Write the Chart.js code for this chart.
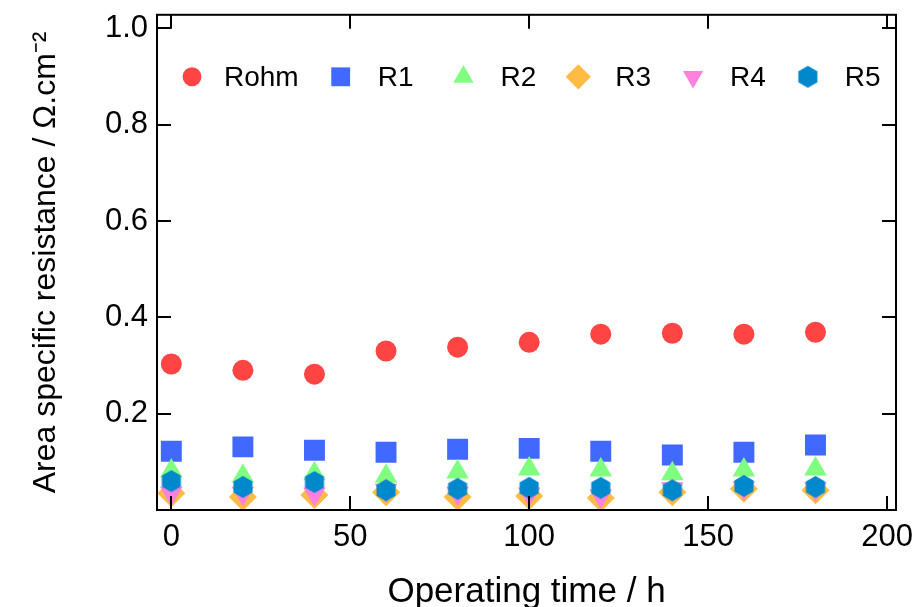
<!DOCTYPE html>
<html>
<head>
<meta charset="utf-8">
<script src="https://cdn.jsdelivr.net/npm/chart.js@4.4.1/dist/chart.umd.min.js"></script>
<style>
  html, body { margin: 0; padding: 0; background: #fff; }
  #wrap { width: 913px; height: 607px; }
</style>
</head>
<body>
<div id="wrap"><canvas id="asrChart" width="913" height="607"></canvas></div>
<script>
// operating time (h)
const hours = [0, 20, 40, 60, 80, 100, 120, 140, 160, 180];

// area specific resistance, ohm.cm-2
const rohm = [0.303, 0.290, 0.282, 0.330, 0.338, 0.348, 0.365, 0.367, 0.365, 0.369];
const r1   = [0.122, 0.131, 0.124, 0.120, 0.126, 0.128, 0.122, 0.114, 0.120, 0.135];
const r2   = [0.081, 0.070, 0.075, 0.070, 0.079, 0.085, 0.083, 0.075, 0.083, 0.085];
const r3   = [0.035, 0.027, 0.031, 0.037, 0.027, 0.029, 0.025, 0.037, 0.044, 0.041];
const r4   = [0.035, 0.035, 0.033, 0.041, 0.035, 0.033, 0.029, 0.044, 0.046, 0.044];
const r5   = [0.060, 0.048, 0.058, 0.041, 0.044, 0.046, 0.046, 0.041, 0.050, 0.048];

const xTicks = [0, 50, 100, 150, 200];
const yTicks = [0.2, 0.4, 0.6, 0.8, 1.0];

const FONT = '"Liberation Sans", Arial, sans-serif';

// hexagon marker (no built-in style for it)
function makeHexagon(r, color) {
    const c = document.createElement('canvas');
    const w = Math.ceil(r * 2 * Math.cos(Math.PI / 6)) + 2;
    const h = r * 2 + 2;
    c.width = w;
    c.height = h;
    const g = c.getContext('2d');
    g.fillStyle = color;
    g.beginPath();
    for (let i = 0; i < 6; i++) {
        const a = Math.PI / 2 + i * Math.PI / 3;
        const px = w / 2 + r * Math.cos(a);
        const py = h / 2 + r * Math.sin(a);
        if (i === 0) g.moveTo(px, py); else g.lineTo(px, py);
    }
    g.closePath();
    g.fill();
    return c;
}

function toPoints(ys) {
    return hours.map((h, i) => ({ x: h, y: ys[i] }));
}

function series(label, ys, color, style, radius, rotation, order) {
    return {
        label: label,
        data: toPoints(ys),
        backgroundColor: color,
        borderColor: color,
        borderWidth: 0,
        pointStyle: style,
        pointRadius: radius,
        pointHoverRadius: radius,
        pointRotation: rotation,
        showLine: false,
        order: order
    };
}

const datasets = [
    series('Rohm', rohm, '#ff4444', 'circle', 10.5, 0, 5),
    series('R1', r1, '#4169ff', 'rect', 14.8, 0, 4),
    series('R2', r2, '#80ff80', 'triangle', 13, 0, 3),
    series('R3', r3, '#ffbb44', 'rectRot', 14, 0, 2),
    series('R4', r4, '#ff80dd', 'triangle', 13, 180, 1),
    series('R5', r5, '#0088cc', makeHexagon(11, '#0088cc'), 11, 0, 0)
];

// frame + inward ticks on all four sides
const framePlugin = {
    id: 'frame',
    afterDraw(chart) {
        const { ctx, chartArea: a, scales } = chart;
        const len = 14;
        ctx.save();
        ctx.strokeStyle = '#000';
        ctx.lineWidth = 2;
        ctx.strokeRect(a.left, a.top, a.right - a.left, a.bottom - a.top);
        ctx.beginPath();
        scales.x.ticks.forEach(t => {
            const px = Math.round(scales.x.getPixelForValue(t.value));
            ctx.moveTo(px, a.bottom); ctx.lineTo(px, a.bottom - len);
            ctx.moveTo(px, a.top); ctx.lineTo(px, a.top + len);
        });
        scales.y.ticks.forEach(t => {
            const py = Math.round(scales.y.getPixelForValue(t.value));
            ctx.moveTo(a.left, py); ctx.lineTo(a.left + len, py);
            ctx.moveTo(a.right, py); ctx.lineTo(a.right - len, py);
        });
        ctx.stroke();
        ctx.restore();
    }
};

// legend drawn inside the plot area, one row
const innerLegend = {
    id: 'innerLegend',
    afterDraw(chart) {
        const { ctx, chartArea: a } = chart;
        ctx.save();
        ctx.font = '28px ' + FONT;
        ctx.textBaseline = 'middle';
        ctx.textAlign = 'left';
        let x = a.left + 35;
        const y = a.top + 62;
        chart.data.datasets.forEach((ds, i) => {
            ctx.fillStyle = ds.backgroundColor;
            Chart.helpers.drawPoint(ctx, {
                pointStyle: ds.pointStyle,
                rotation: ds.pointRotation,
                radius: ds.pointRadius * 0.9,
                borderWidth: 0
            }, x, y);
            ctx.fillStyle = '#000';
            const tx = x + (i === 0 ? 32 : 37);
            ctx.fillText(ds.label, tx, y + 1);
            x = tx + ctx.measureText(ds.label).width + (i === 1 ? 50 : 42);
        });
        ctx.restore();
    }
};

new Chart(document.getElementById('asrChart'), {
    type: 'scatter',
    data: { datasets: datasets },
    plugins: [framePlugin, innerLegend],
    options: {
        responsive: false,
        animation: false,
        devicePixelRatio: 1,
        layout: { padding: { top: 14, right: 17, left: 0, bottom: 0 } },
        plugins: {
            legend: { display: false },
            tooltip: { enabled: false }
        },
        scales: {
            x: {
                type: 'linear',
                min: -4,
                max: 202.5,
                afterFit: s => { s.height = 97; s.paddingLeft = 0; s.paddingRight = 0; },
                afterBuildTicks: s => { s.ticks = xTicks.map(v => ({ value: v })); },
                grid: { display: false, drawTicks: false },
                border: { display: false },
                ticks: {
                    padding: 9,
                    color: '#000',
                    font: { family: FONT, size: 31 }
                },
                title: {
                    display: true,
                    text: 'Operating time / h',
                    color: '#000',
                    font: { family: FONT, size: 35 },
                    padding: { top: 0, bottom: -6 }
                }
            },
            y: {
                type: 'linear',
                min: 0,
                max: 1.028,
                afterFit: s => { s.width = 157; s.paddingTop = 0; s.paddingBottom = 0; },
                afterBuildTicks: s => { s.ticks = yTicks.map(v => ({ value: v })); },
                grid: { display: false, drawTicks: false },
                border: { display: false },
                ticks: {
                    padding: 9,
                    color: '#000',
                    font: { family: FONT, size: 31 },
                    callback: v => v.toFixed(1)
                },
                title: {
                    display: true,
                    text: 'Area specific resistance / \u03A9.cm\u207B\u00B2',
                    color: '#000',
                    font: { family: FONT, size: 32 },
                    padding: { top: 27, bottom: 0 }
                }
            }
        }
    }
});
</script>
</body>
</html>
